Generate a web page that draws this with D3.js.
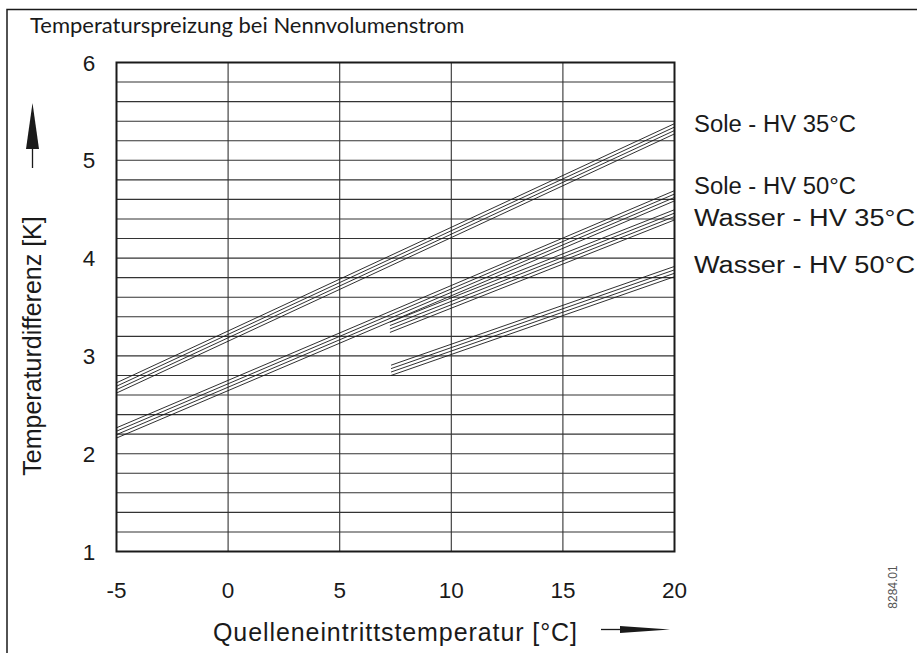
<!DOCTYPE html>
<html><head><meta charset="utf-8">
<script src="https://cdn.jsdelivr.net/npm/d3@7"></script>
<style>body{margin:0;background:#fff}svg{display:block}</style>
</head><body>
<svg id="c" width="917" height="653"></svg>
<script>
// ---- data ----
const seriesNames = ["Sole - HV 35°C", "Sole - HV 50°C", "Wasser - HV 35°C", "Wasser - HV 50°C"];
const startX = [-5, -5, 7.25, 7.3];
const endX = [20, 20, 20, 20];
const sole35Start = [2.62, 2.655, 2.69, 2.725];
const sole35End = [5.27, 5.305, 5.34, 5.375];
const sole50Start = [2.16, 2.195, 2.23, 2.265];
const sole50End = [4.585, 4.62, 4.655, 4.69];
const wasser35Start = [3.24, 3.275, 3.31, 3.345];
const wasser35End = [4.39, 4.425, 4.46, 4.495];
const wasser50Start = [2.80, 2.835, 2.87, 2.905];
const wasser50End = [3.81, 3.845, 3.88, 3.915];
const startY = [sole35Start, sole50Start, wasser35Start, wasser50Start];
const endY = [sole35End, sole50End, wasser35End, wasser50End];
const xTicks = [-5, 0, 5, 10, 15, 20];
const yTicks = [1, 2, 3, 4, 5, 6];
const yGrid = d3.range(10, 61, 2).map(v => v / 10);

// ---- layout ----
const labelY = [132, 194, 226, 273];
const labelW = [162, 162, 221, 221];

const svg = d3.select("#c");
const L = 116.5, R = 674.5, T = 62.5, B = 551.5;
const x = d3.scaleLinear().domain([-5, 20]).range([L, R]);
const y = d3.scaleLinear().domain([1, 6]).range([B, T]);
const font = "'Liberation Sans', Arial, sans-serif";
const ink = "#1a1a1a";

// outer frame (top and left only visible)
svg.append("path").attr("d", "M7,660 V9.5 H930").attr("fill", "none").attr("stroke", ink).attr("stroke-width", 1.5);

// title
svg.append("text").attr("x", 30).attr("y", 33).text("Temperaturspreizung bei Nennvolumenstrom")
  .attr("font-family", "Lato, 'Open Sans', sans-serif").attr("font-size", 22).attr("fill", ink);

// grid
const g = svg.append("g");
g.selectAll("line.h").data(yGrid).enter().append("line")
  .attr("x1", L).attr("x2", R).attr("y1", d => y(d)).attr("y2", d => y(d))
  .attr("stroke", "#333").attr("stroke-width", 1.1);
g.selectAll("line.v").data(xTicks.slice(1, -1)).enter().append("line")
  .attr("y1", T).attr("y2", B).attr("x1", d => x(d)).attr("x2", d => x(d))
  .attr("stroke", "#333").attr("stroke-width", 1.1);
g.append("rect").attr("x", L).attr("y", T).attr("width", R - L).attr("height", B - T)
  .attr("fill", "none").attr("stroke", ink).attr("stroke-width", 2);

// axis tick labels
svg.append("g").selectAll("text").data(xTicks).enter().append("text")
  .attr("x", d => x(d)).attr("y", 598).attr("text-anchor", "middle")
  .attr("font-family", font).attr("font-size", 22.5).attr("fill", ink).text(d => d);
svg.append("g").selectAll("text").data(yTicks).enter().append("text")
  .attr("x", 89).attr("y", d => y(d) + 8).attr("text-anchor", "middle")
  .attr("font-family", font).attr("font-size", 22.5).attr("fill", ink).text(d => d);

// series bundles
const line = d3.line().x(d => x(d[0])).y(d => y(d[1]));
seriesNames.forEach((name, i) => {
  const sg = svg.append("g");
  startY[i].forEach((sy, k) => {
    sg.append("path").attr("d", line([[startX[i], sy], [endX[i], endY[i][k]]]))
      .attr("fill", "none").attr("stroke", ink).attr("stroke-width", 0.9);
  });
  svg.append("text").attr("x", 694).attr("y", labelY[i]).text(name)
    .attr("textLength", labelW[i]).attr("lengthAdjust", "spacingAndGlyphs")
    .attr("font-family", font).attr("font-size", 23.5).attr("fill", ink);
});

// axis titles
svg.append("text").attr("transform", "translate(41,346) rotate(-90)").attr("text-anchor", "middle")
  .attr("font-family", font).attr("font-size", 25).attr("fill", ink).text("Temperaturdifferenz [K]");
svg.append("text").attr("x", 213).attr("y", 641)
  .attr("textLength", 364).attr("lengthAdjust", "spacing")
  .attr("font-family", font).attr("font-size", 25).attr("fill", ink).text("Quelleneintrittstemperatur [°C]");

// arrows
svg.append("line").attr("x1", 32.5).attr("x2", 32.5).attr("y1", 168).attr("y2", 140).attr("stroke", ink).attr("stroke-width", 1.3);
svg.append("path").attr("d", "M32.5,103 L39,149 L26,149 Z").attr("fill", ink);
svg.append("line").attr("x1", 601).attr("x2", 630).attr("y1", 629.5).attr("y2", 629.5).attr("stroke", ink).attr("stroke-width", 1.3);
svg.append("path").attr("d", "M670,629.5 L620,626 L620,633 Z").attr("fill", ink);

// figure id
svg.append("text").attr("transform", "translate(897,587) rotate(-90)").attr("text-anchor", "middle")
  .attr("font-family", font).attr("font-size", 12).attr("fill", "#555").text("8284.01");
</script>
</body></html>
